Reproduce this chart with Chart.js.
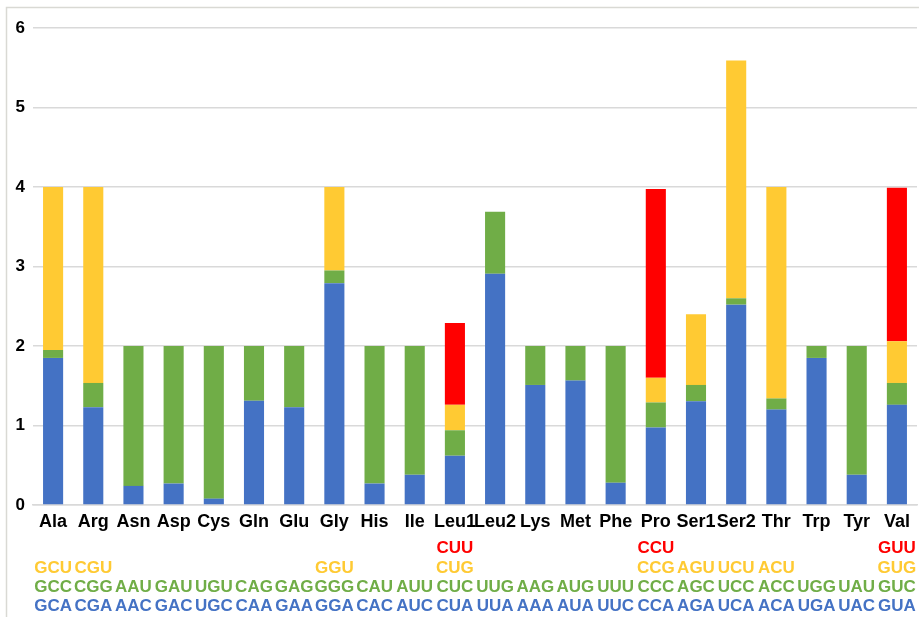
<!DOCTYPE html>
<html>
<head>
<meta charset="utf-8">
<style>
  html, body { margin: 0; padding: 0; background: #fff; }
  #wrap { width: 919px; height: 617px; position: relative; }
</style>
<script src="https://cdn.jsdelivr.net/npm/chart.js@4/dist/chart.umd.min.js"></script>
</head>
<body>
<div id="wrap"><canvas id="codon-chart" width="919" height="617"></canvas></div>
<script>
// amino acids on the x axis
const aminoAcids = ["Ala", "Arg", "Asn", "Asp", "Cys", "Gln", "Glu", "Gly", "His", "Ile", "Leu1",
                    "Leu2", "Lys", "Met", "Phe", "Pro", "Ser1", "Ser2", "Thr", "Trp", "Tyr", "Val"];

// stacked segment values, bottom to top
const blueValues   = [1.85, 1.23, 0.24, 0.27, 0.08, 1.31, 1.23, 2.79, 0.27, 0.38, 0.62,
                      2.91, 1.51, 1.565, 0.28, 0.975, 1.305, 2.52, 1.20, 1.85, 0.38, 1.26];
const greenValues  = [0.10, 0.305, 1.76, 1.73, 1.92, 0.69, 0.77, 0.16, 1.73, 1.62, 0.32,
                      0.78, 0.49, 0.435, 1.72, 0.315, 0.205, 0.08, 0.14, 0.15, 1.62, 0.275];
const yellowValues = [2.05, 2.465, null, null, null, null, null, 1.05, null, null, 0.32,
                      null, null, null, null, 0.31, 0.89, 2.99, 2.66, null, null, 0.525];
const redValues    = [null, null, null, null, null, null, null, null, null, null, 1.03,
                      null, null, null, null, 2.375, null, null, null, null, null, 1.93];

// codon rows under the axis (top row first)
const redCodons    = ["", "", "", "", "", "", "", "", "", "", "CUU",
                      "", "", "", "", "CCU", "", "", "", "", "", "GUU"];
const yellowCodons = ["GCU", "CGU", "", "", "", "", "", "GGU", "", "", "CUG",
                      "", "", "", "", "CCG", "AGU", "UCU", "ACU", "", "", "GUG"];
const greenCodons  = ["GCC", "CGG", "AAU", "GAU", "UGU", "CAG", "GAG", "GGG", "CAU", "AUU", "CUC",
                      "UUG", "AAG", "AUG", "UUU", "CCC", "AGC", "UCC", "ACC", "UGG", "UAU", "GUC"];
const blueCodons   = ["GCA", "CGA", "AAC", "GAC", "UGC", "CAA", "GAA", "GGA", "CAC", "AUC", "CUA",
                      "UUA", "AAA", "AUA", "UUC", "CCA", "AGA", "UCA", "ACA", "UGA", "UAC", "GUA"];

const yTicks = [0, 1, 2, 3, 4, 5, 6];

const BLUE = '#4472C4';
const GREEN = '#70AD47';
const YELLOW = '#FFCA33';
const RED = '#FF0000';
const FONT = '"Liberation Sans", Arial, sans-serif';

// rows of codon text, drawn under the category labels
const codonRows = [
    { codons: redCodons, color: RED, offset: 43 },
    { codons: yellowCodons, color: YELLOW, offset: 63 },
    { codons: greenCodons, color: GREEN, offset: 82 },
    { codons: blueCodons, color: BLUE, offset: 101 }
];

const codonPlugin = {
    id: 'codonRows',
    beforeDraw(chart) {
        // light frame on the left and top
        const ctx = chart.ctx;
        ctx.save();
        ctx.strokeStyle = '#d9d9d4';
        ctx.lineWidth = 1.5;
        ctx.beginPath();
        ctx.moveTo(6.5, 617);
        ctx.lineTo(6.5, 7.5);
        ctx.lineTo(919, 7.5);
        ctx.stroke();
        ctx.restore();
    },
    afterDraw(chart) {
        const ctx = chart.ctx;
        const xScale = chart.scales.x;
        const bottom = chart.chartArea.bottom;
        ctx.save();
        ctx.font = 'bold 17px ' + FONT;
        ctx.textAlign = 'center';
        ctx.textBaseline = 'middle';
        codonRows.forEach(row => {
            ctx.fillStyle = row.color;
            row.codons.forEach((codon, i) => {
                if (codon) {
                    ctx.fillText(codon, xScale.getPixelForValue(i), bottom + row.offset);
                }
            });
        });
        ctx.restore();
    }
};

const makeSet = (values, color) => ({
    data: values,
    backgroundColor: color,
    borderWidth: 0,
    barPercentage: 0.5,
    categoryPercentage: 1.0
});

new Chart(document.getElementById("codon-chart"), {
    type: 'bar',
    data: {
        labels: aminoAcids,
        datasets: [
            makeSet(blueValues, BLUE),
            makeSet(greenValues, GREEN),
            makeSet(yellowValues, YELLOW),
            makeSet(redValues, RED)
        ]
    },
    options: {
        responsive: false,
        animation: false,
        layout: {
            padding: { top: 28, right: 2, bottom: 0, left: 0 }
        },
        plugins: {
            legend: { display: false },
            tooltip: { enabled: false }
        },
        scales: {
            x: {
                stacked: true,
                grid: { display: false, drawTicks: false },
                border: { color: '#d9d9d9', width: 1.5 },
                ticks: {
                    color: '#000',
                    font: { family: FONT, size: 18, weight: 'bold' },
                    padding: 6,
                    maxRotation: 0,
                    autoSkip: false
                },
                afterFit(scale) { scale.height = 112; }
            },
            y: {
                stacked: true,
                min: 0,
                max: 6,
                afterBuildTicks(scale) {
                    scale.ticks = yTicks.map(v => ({ value: v }));
                },
                grid: { color: '#d9d9d9', lineWidth: 1.5, drawTicks: false },
                border: { display: false },
                ticks: {
                    color: '#000',
                    font: { family: FONT, size: 17, weight: 'bold' },
                    padding: 8
                },
                afterFit(scale) { scale.width = 33; }
            }
        }
    },
    plugins: [codonPlugin]
});
</script>
</body>
</html>
